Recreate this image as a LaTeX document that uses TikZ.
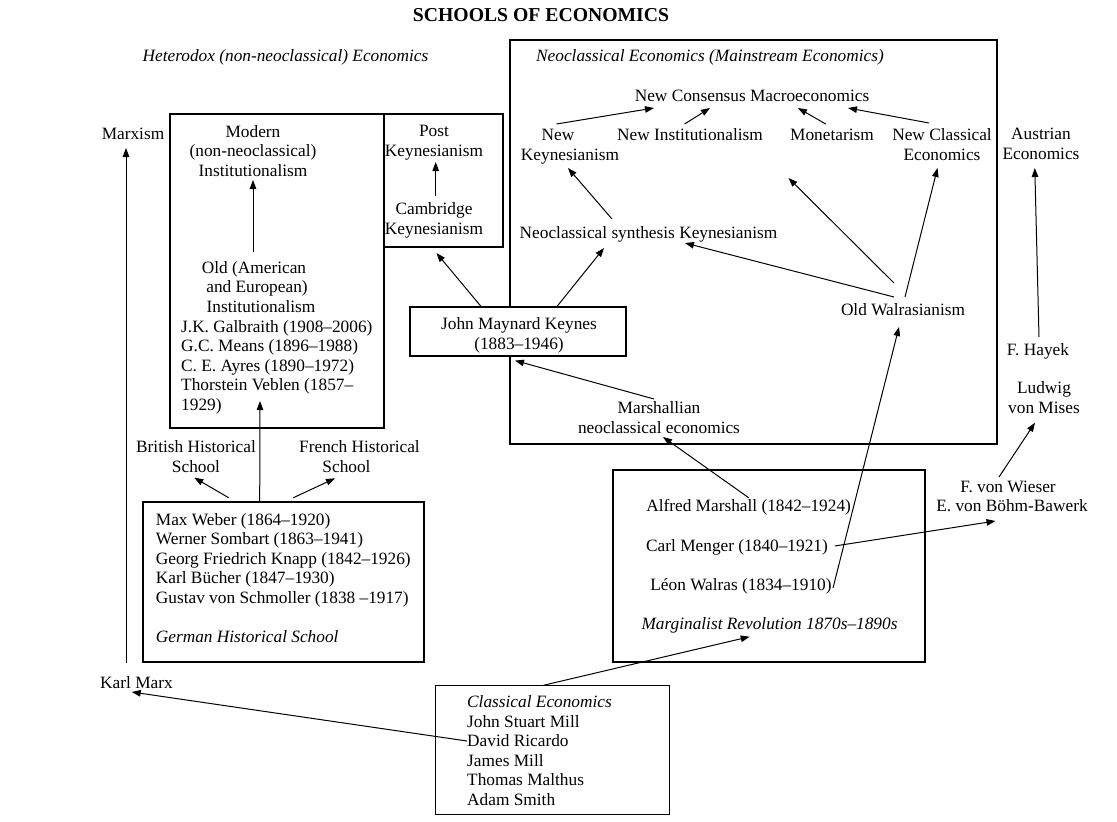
\documentclass[tikz,border=0pt]{standalone}
\usepackage{fontspec}
\setmainfont{Liberation Serif}
\usetikzlibrary{arrows.meta,calc}
\begin{document}
\begin{tikzpicture}[x=1pt,y=-1pt,
  txt/.style={inner sep=0pt, text height=12.5pt, text depth=0.5pt, align=center, font=\fontsize{17.3pt}{19.5pt}\selectfont},
  ital/.style={txt, font=\fontsize{17.3pt}{19.5pt}\selectfont\itshape},
  frame/.style={draw, line width=1.1pt, inner sep=0pt},
  arr/.style={-{Triangle[length=9pt,width=6.5pt]}, line width=1pt}]
\useasboundingbox[fill=white] (0,0) rectangle (1117,822);

% titles
\node[txt, font=\fontsize{19.7pt}{21pt}\selectfont\bfseries] (title) at (541,15) {SCHOOLS OF ECONOMICS};
\node[ital] (het) at (285.5,55) {Heterodox (non-neoclassical) Economics};
\node[ital] (neot) at (710,55) {Neoclassical Economics (Mainstream Economics)};

% boxes
\node[frame, minimum width=487pt, minimum height=404pt] (neobox) at (753.5,242) {};
\node[frame, minimum width=214pt, minimum height=314pt] (instbox) at (277,271) {};
\node[frame, minimum width=119pt, minimum height=133pt] (postbox) at (443.5,180.5) {};
\node[frame, minimum width=281pt, minimum height=160pt] (gerbox) at (283.5,582) {};
\node[frame, minimum width=312pt, minimum height=192pt] (margbox) at (769,566) {};
\node[frame, minimum width=234pt, minimum height=129pt] (classbox) at (552.8,750.3) {};
\node[frame, fill=white, minimum width=216pt, minimum height=49pt] (keynes) at (518,331.5) {};
\node[txt] (keynestext) at (519,343) {John Maynard Keynes\\(1883–1946)};

% texts (multi-line nodes are placed by their last line)
\node[txt] (marxism) at (133,133) {Marxism};
\node[txt] (karlmarx) at (136.5,682) {Karl Marx};
\node[txt] (modern) at (253,170) {Modern\\(non-neoclassical)\\Institutionalism};
\node[txt] (oldinst) at (257,306) {Old (American\kern6pt\\and European)\\\kern8pt Institutionalism};
\node[txt, align=left, anchor=west] (instlist) at (181,404) {J.K. Galbraith (1908–2006)\\G.C. Means (1896–1988)\\C. E. Ayres (1890–1972)\\Thorstein Veblen (1857–\\1929)};
\node[txt] (post) at (434,150) {Post\\Keynesianism};
\node[txt] (camb) at (434,228) {Cambridge\\Keynesianism};
\node[txt] (neosyn) at (648.5,232) {Neoclassical synthesis Keynesianism};
\node[txt] (newkeyn) at (570,154) {New\kern24pt\\Keynesianism};
\node[txt] (newinst) at (690,134) {New Institutionalism};
\node[txt] (monet) at (832,134) {Monetarism};
\node[txt] (newclass) at (942,154) {New Classical\\Economics};
\node[txt] (ncm) at (752,95) {New Consensus Macroeconomics};
\node[txt] (oldwal) at (903,309) {Old Walrasianism};
\node[txt] (marsh) at (659,427) {Marshallian\\neoclassical economics};
\node[txt] (alfred) at (748.6,505.7) {Alfred Marshall (1842–1924)};
\node[txt] (menger) at (737,545) {Carl Menger (1840–1921)};
\node[txt] (walras) at (741,584) {Léon Walras (1834–1910)};
\node[ital] (marg) at (769.5,623) {Marginalist Revolution 1870s–1890s};
\node[txt] (austrian) at (1041,153) {Austrian\\Economics};
\node[txt] (hayek) at (1038,349) {F. Hayek};
\node[txt] (mises) at (1044,407) {Ludwig\\von Mises};
\node[txt] (wieser) at (1012,505.7) {F. von Wieser\kern8pt\\E. von Böhm-Bawerk};
\node[txt] (british) at (196,466) {British Historical\\School};
\node[txt] (french) at (359.5,466) {French Historical\\School\kern26pt};
\node[txt, align=left, anchor=west] (gertext) at (155.7,636) {Max Weber (1864–1920)\\Werner Sombart (1863–1941)\\Georg Friedrich Knapp (1842–1926)\\Karl Bücher (1847–1930)\\Gustav von Schmoller (1838 –1917)\\[19.5pt]\textit{German Historical School}};
\node[txt, align=left, anchor=west] (classtext) at (467,799) {\textit{Classical Economics}\\John Stuart Mill\\David Ricardo\\James Mill\\Thomas Malthus\\Adam Smith};

% connectors
\draw[arr] ($(karlmarx)+(-10.5,-19)$) -- ($(marxism)+(-7,15)$);
\draw[arr] ($(classtext.west)+(0,-58)$) -- ($(karlmarx)+(-4.8,10)$);
\draw[arr] ($(classbox.north)+(-9.2,0)$) -- ($(marg)+(-19.8,13.7)$);
\draw[arr] ($(gerbox.north)+(-23.8,0)$) -- ($(instbox)+(-17,130)$);
\draw[arr] ($(gerbox.north)+(-54.8,-3.7)$) -- ($(british)+(-1.7,11.7)$);
\draw[arr] ($(gerbox.north)+(9.8,-3.7)$) -- ($(french)+(-24.5,12.3)$);
\draw[arr] ($(oldinst)+(-4,-54)$) -- ($(modern)+(0,10)$);
\draw[arr] ($(camb)+(1.7,-32)$) -- ($(post)+(1.7,12)$);
\draw[arr] ($(keynes.north)+(-37,0)$) -- ($(postbox.south)+(-7,5.5)$);
\draw[arr] ($(keynes.north)+(39,0)$) -- ($(neosyn)+(-44.5,16)$);
\draw[arr] ($(neosyn)+(-36.5,-13)$) -- ($(newkeyn)+(-2,14)$);
\draw[arr] ($(newkeyn)+(-13.5,-30)$) -- ($(ncm)+(-98,13)$);
\draw[arr] ($(newinst)+(-5.4,-10)$) -- ($(ncm)+(-42,13)$);
\draw[arr] ($(monet)+(-6.3,-10)$) -- ($(ncm)+(46,13)$);
\draw[arr] ($(newclass)+(-13,-31)$) -- ($(ncm)+(96,13)$);
\draw[arr] ($(oldwal)+(-9,-12)$) -- ($(neosyn)+(36.5,11)$);
\draw[arr] ($(oldwal)+(-9,-26)$) -- ($(monet)+(-43.5,44)$);
\draw[arr] ($(oldwal)+(2,-12)$) -- ($(newclass)+(-4.5,14)$);
\draw[arr] ($(marsh)+(-5,-28)$) -- ($(keynes.south)+(-3,4)$);
\draw[arr] ($(alfred)+(0,-8)$) -- ($(marsh)+(4,10)$);
\draw[arr] ($(walras)+(92,4)$) -- ($(oldwal)+(-4,18)$);
\draw[arr] ($(menger)+(97.8,1)$) -- ($(wieser)+(-16.5,15.3)$);
\draw[arr] ($(wieser)+(-13,-28.7)$) -- ($(mises)+(-9,15.7)$);
\draw[arr] ($(hayek)+(1,-12)$) -- ($(austrian)+(-6.2,15)$);
\end{tikzpicture}
\end{document}
